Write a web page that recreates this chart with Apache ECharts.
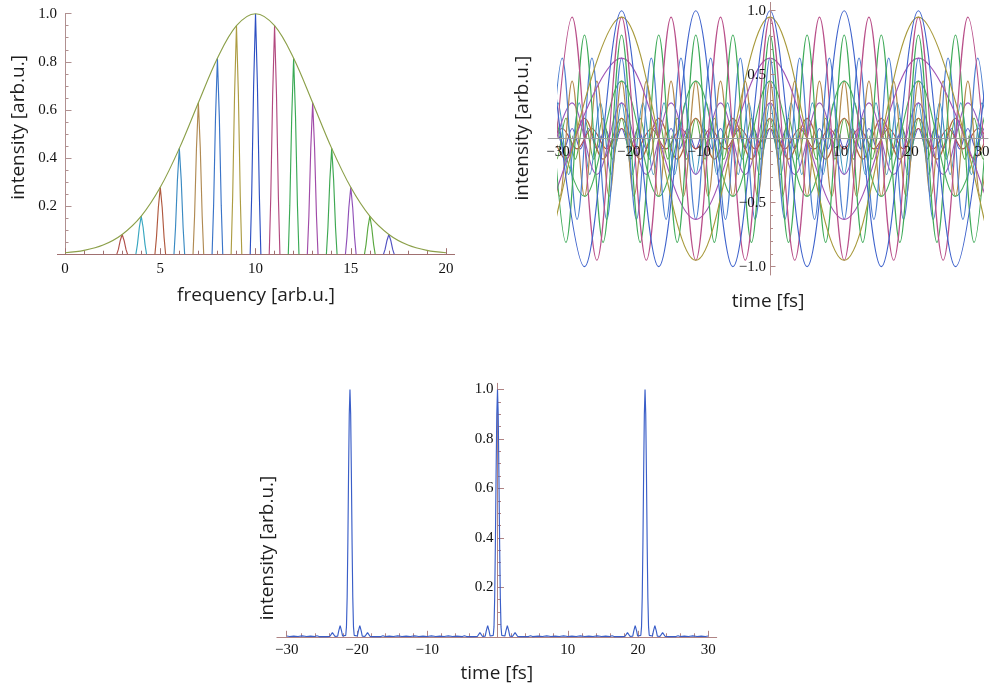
<!DOCTYPE html>
<html><head><meta charset="utf-8">
<script src="https://cdn.jsdelivr.net/npm/echarts@6/dist/echarts.min.js"></script>
<style>html,body{margin:0;padding:0;background:#fff}#c{width:989px;height:688px}</style>
</head><body><div id="c"></div>
<script>
// ---------- Panel A : spectrum ----------
const specFreq = [0,1,2,3,4,5,6,7,8,9,10,11,12,13,14,15,16,17,18,19,20];
const specEnvelope = [0.006,0.016,0.038,0.082,0.158,0.278,0.44,0.63,0.815,0.95,1,0.95,0.815,0.63,0.44,0.278,0.158,0.082,0.038,0.016,0.006];
const peak03 = [[2.72,0],[2.8,0.02],[2.9,0.057],[3,0.082],[3.1,0.057],[3.2,0.02],[3.28,0]];
const peak04 = [[3.72,0],[3.8,0.04],[3.9,0.111],[4,0.158],[4.1,0.111],[4.2,0.04],[4.28,0]];
const peak05 = [[4.72,0],[4.8,0.07],[4.9,0.195],[5,0.278],[5.1,0.195],[5.2,0.07],[5.28,0]];
const peak06 = [[5.72,0],[5.8,0.11],[5.9,0.308],[6,0.44],[6.1,0.308],[6.2,0.11],[6.28,0]];
const peak07 = [[6.72,0],[6.8,0.158],[6.9,0.441],[7,0.63],[7.1,0.441],[7.2,0.158],[7.28,0]];
const peak08 = [[7.72,0],[7.8,0.204],[7.9,0.57],[8,0.815],[8.1,0.57],[8.2,0.204],[8.28,0]];
const peak09 = [[8.72,0],[8.8,0.238],[8.9,0.665],[9,0.95],[9.1,0.665],[9.2,0.238],[9.28,0]];
const peak10 = [[9.72,0],[9.8,0.25],[9.9,0.7],[10,1],[10.1,0.7],[10.2,0.25],[10.28,0]];
const peak11 = [[10.72,0],[10.8,0.238],[10.9,0.665],[11,0.95],[11.1,0.665],[11.2,0.238],[11.28,0]];
const peak12 = [[11.72,0],[11.8,0.204],[11.9,0.57],[12,0.815],[12.1,0.57],[12.2,0.204],[12.28,0]];
const peak13 = [[12.72,0],[12.8,0.158],[12.9,0.441],[13,0.63],[13.1,0.441],[13.2,0.158],[13.28,0]];
const peak14 = [[13.72,0],[13.8,0.11],[13.9,0.308],[14,0.44],[14.1,0.308],[14.2,0.11],[14.28,0]];
const peak15 = [[14.72,0],[14.8,0.07],[14.9,0.195],[15,0.278],[15.1,0.195],[15.2,0.07],[15.28,0]];
const peak16 = [[15.72,0],[15.8,0.04],[15.9,0.111],[16,0.158],[16.1,0.111],[16.2,0.04],[16.28,0]];
const peak17 = [[16.72,0],[16.8,0.02],[16.9,0.057],[17,0.082],[17.1,0.057],[17.2,0.02],[17.28,0]];
const specXLabels = [0,5,10,15,20];
const specXMinor = [1,2,3,4,6,7,8,9,11,12,13,14,16,17,18,19];
const specYLabels = [0.2,0.4,0.6,0.8,1.0];
const specYMinor = [0.05,0.1,0.15,0.25,0.3,0.35,0.45,0.5,0.55,0.65,0.7,0.75,0.85,0.9,0.95];

// ---------- Panel B : component waves ----------
const wave01 = [[-31.5,1],[-26.25,-1],[-21,1],[-15.75,-1],[-10.5,1],[-5.25,-1],[0,1],[5.25,-1],[10.5,1],[15.75,-1],[21,1],[26.25,-1],[31.5,1]];
const wave02 = [[-31.5,-0.95],[-21,0.95],[-10.5,-0.95],[0,0.95],[10.5,-0.95],[21,0.95],[31.5,-0.95]];
const wave03 = [[-31.5,-0.95],[-28,0.95],[-24.5,-0.95],[-21,0.95],[-17.5,-0.95],[-14,0.95],[-10.5,-0.95],[-7,0.95],[-3.5,-0.95],[0,0.95],[3.5,-0.95],[7,0.95],[10.5,-0.95],[14,0.95],[17.5,-0.95],[21,0.95],[24.5,-0.95],[28,0.95],[31.5,-0.95]];
const wave04 = [[-31.5,0.81],[-28.875,-0.81],[-26.25,0.81],[-23.625,-0.81],[-21,0.81],[-18.375,-0.81],[-15.75,0.81],[-13.125,-0.81],[-10.5,0.81],[-7.875,-0.81],[-5.25,0.81],[-2.625,-0.81],[0,0.81],[2.625,-0.81],[5.25,0.81],[7.875,-0.81],[10.5,0.81],[13.125,-0.81],[15.75,0.81],[18.375,-0.81],[21,0.81],[23.625,-0.81],[26.25,0.81],[28.875,-0.81],[31.5,0.81]];
const wave05 = [[-31.5,-0.63],[-21,0.63],[-10.5,-0.63],[0,0.63],[10.5,-0.63],[21,0.63],[31.5,-0.63]];
const wave06 = [[-31.5,-0.63],[-29.4,0.63],[-27.3,-0.63],[-25.2,0.63],[-23.1,-0.63],[-21,0.63],[-18.9,-0.63],[-16.8,0.63],[-14.7,-0.63],[-12.6,0.63],[-10.5,-0.63],[-8.4,0.63],[-6.3,-0.63],[-4.2,0.63],[-2.1,-0.63],[0,0.63],[2.1,-0.63],[4.2,0.63],[6.3,-0.63],[8.4,0.63],[10.5,-0.63],[12.6,0.63],[14.7,-0.63],[16.8,0.63],[18.9,-0.63],[21,0.63],[23.1,-0.63],[25.2,0.63],[27.3,-0.63],[29.4,0.63],[31.5,-0.63]];
const wave07 = [[-31.5,0.45],[-26.25,-0.45],[-21,0.45],[-15.75,-0.45],[-10.5,0.45],[-5.25,-0.45],[0,0.45],[5.25,-0.45],[10.5,0.45],[15.75,-0.45],[21,0.45],[26.25,-0.45],[31.5,0.45]];
const wave08 = [[-31.5,0.45],[-29.75,-0.45],[-28,0.45],[-26.25,-0.45],[-24.5,0.45],[-22.75,-0.45],[-21,0.45],[-19.25,-0.45],[-17.5,0.45],[-15.75,-0.45],[-14,0.45],[-12.25,-0.45],[-10.5,0.45],[-8.75,-0.45],[-7,0.45],[-5.25,-0.45],[-3.5,0.45],[-1.75,-0.45],[0,0.45],[1.75,-0.45],[3.5,0.45],[5.25,-0.45],[7,0.45],[8.75,-0.45],[10.5,0.45],[12.25,-0.45],[14,0.45],[15.75,-0.45],[17.5,0.45],[19.25,-0.45],[21,0.45],[22.75,-0.45],[24.5,0.45],[26.25,-0.45],[28,0.45],[29.75,-0.45],[31.5,0.45]];
const wave09 = [[-31.5,-0.28],[-28,0.28],[-24.5,-0.28],[-21,0.28],[-17.5,-0.28],[-14,0.28],[-10.5,-0.28],[-7,0.28],[-3.5,-0.28],[0,0.28],[3.5,-0.28],[7,0.28],[10.5,-0.28],[14,0.28],[17.5,-0.28],[21,0.28],[24.5,-0.28],[28,0.28],[31.5,-0.28]];
const wave10 = [[-31.5,-0.28],[-30,0.28],[-28.5,-0.28],[-27,0.28],[-25.5,-0.28],[-24,0.28],[-22.5,-0.28],[-21,0.28],[-19.5,-0.28],[-18,0.28],[-16.5,-0.28],[-15,0.28],[-13.5,-0.28],[-12,0.28],[-10.5,-0.28],[-9,0.28],[-7.5,-0.28],[-6,0.28],[-4.5,-0.28],[-3,0.28],[-1.5,-0.28],[0,0.28],[1.5,-0.28],[3,0.28],[4.5,-0.28],[6,0.28],[7.5,-0.28],[9,0.28],[10.5,-0.28],[12,0.28],[13.5,-0.28],[15,0.28],[16.5,-0.28],[18,0.28],[19.5,-0.28],[21,0.28],[22.5,-0.28],[24,0.28],[25.5,-0.28],[27,0.28],[28.5,-0.28],[30,0.28],[31.5,-0.28]];
const wave11 = [[-31.5,0.16],[-28.875,-0.16],[-26.25,0.16],[-23.625,-0.16],[-21,0.16],[-18.375,-0.16],[-15.75,0.16],[-13.125,-0.16],[-10.5,0.16],[-7.875,-0.16],[-5.25,0.16],[-2.625,-0.16],[0,0.16],[2.625,-0.16],[5.25,0.16],[7.875,-0.16],[10.5,0.16],[13.125,-0.16],[15.75,0.16],[18.375,-0.16],[21,0.16],[23.625,-0.16],[26.25,0.16],[28.875,-0.16],[31.5,0.16]];
const wave12 = [[-31.5,0.16],[-30.19,-0.16],[-28.88,0.16],[-27.56,-0.16],[-26.25,0.16],[-24.94,-0.16],[-23.63,0.16],[-22.31,-0.16],[-21,0.16],[-19.69,-0.16],[-18.38,0.16],[-17.06,-0.16],[-15.75,0.16],[-14.44,-0.16],[-13.13,0.16],[-11.81,-0.16],[-10.5,0.16],[-9.19,-0.16],[-7.88,0.16],[-6.56,-0.16],[-5.25,0.16],[-3.94,-0.16],[-2.63,0.16],[-1.31,-0.16],[0,0.16],[1.31,-0.16],[2.63,0.16],[3.94,-0.16],[5.25,0.16],[6.56,-0.16],[7.88,0.16],[9.19,-0.16],[10.5,0.16],[11.81,-0.16],[13.13,0.16],[14.44,-0.16],[15.75,0.16],[17.06,-0.16],[18.38,0.16],[19.69,-0.16],[21,0.16],[22.31,-0.16],[23.63,0.16],[24.94,-0.16],[26.25,0.16],[27.56,-0.16],[28.88,0.16],[30.19,-0.16],[31.5,0.16]];
const wave13 = [[-31.5,-0.08],[-29.4,0.08],[-27.3,-0.08],[-25.2,0.08],[-23.1,-0.08],[-21,0.08],[-18.9,-0.08],[-16.8,0.08],[-14.7,-0.08],[-12.6,0.08],[-10.5,-0.08],[-8.4,0.08],[-6.3,-0.08],[-4.2,0.08],[-2.1,-0.08],[0,0.08],[2.1,-0.08],[4.2,0.08],[6.3,-0.08],[8.4,0.08],[10.5,-0.08],[12.6,0.08],[14.7,-0.08],[16.8,0.08],[18.9,-0.08],[21,0.08],[23.1,-0.08],[25.2,0.08],[27.3,-0.08],[29.4,0.08],[31.5,-0.08]];
const wave14 = [[-31.5,-0.08],[-30.33,0.08],[-29.17,-0.08],[-28,0.08],[-26.83,-0.08],[-25.67,0.08],[-24.5,-0.08],[-23.33,0.08],[-22.17,-0.08],[-21,0.08],[-19.83,-0.08],[-18.67,0.08],[-17.5,-0.08],[-16.33,0.08],[-15.17,-0.08],[-14,0.08],[-12.83,-0.08],[-11.67,0.08],[-10.5,-0.08],[-9.33,0.08],[-8.17,-0.08],[-7,0.08],[-5.83,-0.08],[-4.67,0.08],[-3.5,-0.08],[-2.33,0.08],[-1.17,-0.08],[0,0.08],[1.17,-0.08],[2.33,0.08],[3.5,-0.08],[4.67,0.08],[5.83,-0.08],[7,0.08],[8.17,-0.08],[9.33,0.08],[10.5,-0.08],[11.67,0.08],[12.83,-0.08],[14,0.08],[15.17,-0.08],[16.33,0.08],[17.5,-0.08],[18.67,0.08],[19.83,-0.08],[21,0.08],[22.17,-0.08],[23.33,0.08],[24.5,-0.08],[25.67,0.08],[26.83,-0.08],[28,0.08],[29.17,-0.08],[30.33,0.08],[31.5,-0.08]];
const waveXLabels = [-30,-20,-10,10,20,30];
const waveXMinor = [-28,-26,-24,-22,-18,-16,-14,-12,-8,-6,-4,-2,2,4,6,8,12,14,16,18,22,24,26,28];
const waveYLabels = [-1,-0.5,0.5,1];
const waveYMinor = [-0.9,-0.8,-0.7,-0.6,-0.4,-0.3,-0.2,-0.1,0.1,0.2,0.3,0.4,0.6,0.7,0.8,0.9];

// ---------- Panel C : pulse train ----------
const pulse = [
 [-30,0.003],[-29.6,0.001],[-29,0.003],[-28.4,0.001],[-27.8,0.004],[-27.2,0.001],[-26.6,0.003],
 [-26,0.001],[-25.7,0.004],[-25.4,0.001],[-24.85,0.001],[-24.6,0.008],[-24.35,0.001],[-23.85,0.002],[-23.5,0.017],[-23.15,0.002],
 [-22.75,0.003],[-22.6,0.024],[-22.4,0.045],[-22.2,0.024],[-22.05,0.003],[-21.8,0.002],[-21.6,0.006],[-21.5,0.04],[-21.4,0.16],
 [-21.3,0.38],[-21.2,0.66],[-21.1,0.9],[-21,1],[-20.9,0.9],[-20.8,0.66],[-20.7,0.38],[-20.6,0.16],[-20.5,0.04],[-20.4,0.006],
 [-20.2,0.002],[-19.95,0.003],[-19.8,0.024],[-19.6,0.045],[-19.4,0.024],[-19.25,0.003],[-18.85,0.002],[-18.5,0.017],[-18.15,0.002],
 [-17.65,0.001],[-17.4,0.008],[-17.15,0.001],[-16.6,0.001],[-16.3,0.004],[-16,0.001],
 [-15.4,0.003],[-14.8,0.001],[-14.2,0.004],[-13.6,0.001],[-13,0.003],[-12.4,0.001],[-11.8,0.004],[-11.2,0.001],[-10.6,0.003],
 [-10,0.001],[-9.4,0.004],[-8.8,0.001],[-8.2,0.003],[-7.6,0.001],[-7,0.004],[-6.4,0.001],[-5.8,0.003],
 [-5,0.001],[-4.7,0.004],[-4.4,0.001],[-3.85,0.001],[-3.6,0.008],[-3.35,0.001],[-2.85,0.002],[-2.5,0.017],[-2.15,0.002],
 [-1.75,0.003],[-1.6,0.024],[-1.4,0.045],[-1.2,0.024],[-1.05,0.003],[-0.8,0.002],[-0.6,0.006],[-0.5,0.04],[-0.4,0.16],
 [-0.3,0.38],[-0.2,0.66],[-0.1,0.9],[0,1],[0.1,0.9],[0.2,0.66],[0.3,0.38],[0.4,0.16],[0.5,0.04],[0.6,0.006],
 [0.8,0.002],[1.05,0.003],[1.2,0.024],[1.4,0.045],[1.6,0.024],[1.75,0.003],[2.15,0.002],[2.5,0.017],[2.85,0.002],
 [3.35,0.001],[3.6,0.008],[3.85,0.001],[4.4,0.001],[4.7,0.004],[5,0.001],
 [5.8,0.003],[6.4,0.001],[7,0.004],[7.6,0.001],[8.2,0.003],[8.8,0.001],[9.4,0.004],[10,0.001],[10.6,0.003],
 [11.2,0.001],[11.8,0.004],[12.4,0.001],[13,0.003],[13.6,0.001],[14.2,0.004],[14.8,0.001],[15.4,0.003],
 [16,0.001],[16.3,0.004],[16.6,0.001],[17.15,0.001],[17.4,0.008],[17.65,0.001],[18.15,0.002],[18.5,0.017],[18.85,0.002],
 [19.25,0.003],[19.4,0.024],[19.6,0.045],[19.8,0.024],[19.95,0.003],[20.2,0.002],[20.4,0.006],[20.5,0.04],[20.6,0.16],
 [20.7,0.38],[20.8,0.66],[20.9,0.9],[21,1],[21.1,0.9],[21.2,0.66],[21.3,0.38],[21.4,0.16],[21.5,0.04],[21.6,0.006],
 [21.8,0.002],[22.05,0.003],[22.2,0.024],[22.4,0.045],[22.6,0.024],[22.75,0.003],[23.15,0.002],[23.5,0.017],[23.85,0.002],
 [24.35,0.001],[24.6,0.008],[24.85,0.001],[25.4,0.001],[25.7,0.004],[26,0.001],
 [26.6,0.003],[27.2,0.001],[27.8,0.004],[28.4,0.001],[29,0.003],[29.6,0.001],[30,0.003]
];
const pulseXLabels = [-30,-20,-10,10,20,30];
const pulseXMinor = [-28,-26,-24,-22,-18,-16,-14,-12,-8,-6,-4,-2,2,4,6,8,12,14,16,18,22,24,26,28];
const pulseYLabels = [0.2,0.4,0.6,0.8,1.0];
const pulseYMinor = [0.05,0.1,0.15,0.25,0.3,0.35,0.45,0.5,0.55,0.65,0.7,0.75,0.85,0.9,0.95];

// ---------- styles ----------
const peakColors = ['#b0504a','#38a6c0','#b0583e','#3a8ac2','#b08a52','#3a74c8','#ad9c42','#2d4fc2','#b2497f','#3aaa55','#a04aa8','#3ea852','#9050b8','#5aa840','#5252c2'];
const envelopeColor = '#8ca04a';
const waveColors = ['#3f63cc','#a89a3c','#b9508a','#3eaa58','#a356b5','#4d7fd0','#48b060','#b38a4c','#9a5cc0','#3a94bf','#b0683e','#5aa848','#b0504a','#5a5ac8'];
const pulseColor = '#3a5ec8';

const TICK_FONT = {fontFamily:'Liberation Serif', fontSize:15, color:'#111'};
const NAME_FONT = {fontFamily:'Open Sans', fontSize:19, color:'#1e1e1e'};
const fmtInt = v => String(Math.round(v)).replace('-', '\u2212');
const fmt1 = v => (Math.round(v * 10) / 10).toFixed(1).replace('-', '\u2212');

function line(data, color, xi, yi, extra) {
  return Object.assign({type:'line', data:data, xAxisIndex:xi, yAxisIndex:yi, symbol:'none', showSymbol:false,
    silent:true, animation:false, emphasis:{disabled:true}, lineStyle:{color:color, width:1.15}, itemStyle:{color:color}}, extra || {});
}
function mainAxis(grid, pos, off, min, max, lineColor, ticks, labels, fmt, margin, tickLen, extra) {
  return Object.assign({gridIndex:grid, type:'value', position:pos, offset:off, min:min, max:max,
    axisLine:{show:true, onZero:false, lineStyle:{color:lineColor, width:1}},
    axisTick:{show:true, inside:true, length:tickLen, customValues:ticks, lineStyle:{color:lineColor, width:1}},
    axisLabel:Object.assign({show:true, customValues:labels, formatter:fmt, margin:margin}, TICK_FONT),
    splitLine:{show:false}, minorTick:{show:false}}, extra || {});
}
function minorAxis(grid, pos, off, min, max, lineColor, ticks, tickLen) {
  return {gridIndex:grid, type:'value', position:pos, offset:off, min:min, max:max,
    axisLine:{show:false, onZero:false},
    axisTick:{show:true, inside:true, length:tickLen, customValues:ticks, lineStyle:{color:lineColor, width:1}},
    axisLabel:{show:false}, splitLine:{show:false}};
}

const peaks = [peak03,peak04,peak05,peak06,peak07,peak08,peak09,peak10,peak11,peak12,peak13,peak14,peak15,peak16,peak17];
const waves = [wave01,wave02,wave03,wave04,wave05,wave06,wave07,wave08,wave09,wave10,wave11,wave12,wave13,wave14];

const series = [];
peaks.forEach((p, i) => series.push(line(p, peakColors[i], 0, 0, {clip:false})));
series.push(line(specFreq.map((f, i) => [f, specEnvelope[i]]), envelopeColor, 0, 0, {smooth:0.35, clip:false}));
for (let i = waves.length - 1; i >= 0; i--) series.push(line(waves[i], waveColors[i], 2, 2, {smooth:0.35, clip:true}));
series.push(line(pulse, pulseColor, 5, 5, {clip:false}));

const AX_A = '#a07070', AX_AY = '#b09090', AX_B = '#9c9c9c', AX_BY = '#b08888', AX_C = '#b08484';

const option = {
  animation:false,
  backgroundColor:'#fff',
  grid:[
    {left:57.4, top:13.7, width:397.2, height:240.5, outerBoundsMode:'none', containLabel:false},
    {left:558, top:2.4, width:424, height:272.6, outerBoundsMode:'none', containLabel:false},
    {left:548.1, top:2.4, width:439.9, height:272.6, outerBoundsMode:'none', containLabel:false},
    {left:276.9, top:383.3, width:439.8, height:253.5, outerBoundsMode:'none', containLabel:false}
  ],
  xAxis:[
    mainAxis(0, 'bottom', 0, -0.4, 20.45, AX_A, specXLabels, specXLabels, fmtInt, 7, 6,
      {name:'frequency [arb.u.]', nameLocation:'middle', nameGap:32, nameTextStyle:NAME_FONT}),
    minorAxis(0, 'bottom', 0, -0.4, 20.45, AX_A, specXMinor, 3.5),
    {gridIndex:1, type:'value', min:-30, max:30, show:false},
    mainAxis(2, 'bottom', -136.3, -31.4, 30.85, AX_B, waveXLabels, waveXLabels, fmtInt, 6, 5,
      {name:'time [fs]', nameLocation:'middle', nameGap:153, nameTextStyle:NAME_FONT, zlevel:1, z:10}),
    minorAxis(2, 'bottom', -136.3, -31.4, 30.85, AX_B, waveXMinor, 3),
    mainAxis(3, 'bottom', 0, -31.4, 31.2, AX_C, pulseXLabels, pulseXLabels, fmtInt, 6, 6,
      {name:'time [fs]', nameLocation:'middle', nameGap:27, nameTextStyle:NAME_FONT}),
    minorAxis(3, 'bottom', 0, -31.4, 31.2, AX_C, pulseXMinor, 3.5)
  ],
  yAxis:[
    mainAxis(0, 'left', -7.6, 0, 1, AX_AY, specYLabels, specYLabels, fmt1, 8, 6.5,
      {name:'intensity [arb.u.]', nameLocation:'middle', nameGap:37, nameTextStyle:Object.assign({padding:[0,0,0,13]}, NAME_FONT)}),
    minorAxis(0, 'left', -7.6, 0, 1, AX_AY, specYMinor, 3.5),
    {gridIndex:1, type:'value', min:-1.065, max:1.065, show:false},
    mainAxis(2, 'left', -221.9, -1.065, 1.065, AX_BY, waveYLabels, waveYLabels, fmt1, 4, 5.5,
      {name:'intensity [arb.u.]', nameLocation:'middle', nameGap:238, nameTextStyle:Object.assign({padding:[0,0,0,21]}, NAME_FONT), zlevel:1, z:10}),
    minorAxis(2, 'left', -221.9, -1.065, 1.065, AX_BY, waveYMinor, 3),
    mainAxis(3, 'left', -220.6, 0, 1.025, AX_C, pulseYLabels, pulseYLabels, fmt1, 4, 6.5,
      {name:'intensity [arb.u.]', nameLocation:'middle', nameGap:220, nameTextStyle:Object.assign({padding:[0,76,0,0]}, NAME_FONT)}),
    minorAxis(3, 'left', -220.6, 0, 1.025, AX_C, pulseYMinor, 3.5)
  ],
  series:series
};

const chart = echarts.init(document.getElementById('c'), null, {renderer:'canvas'});
chart.setOption(option);
</script></body></html>
